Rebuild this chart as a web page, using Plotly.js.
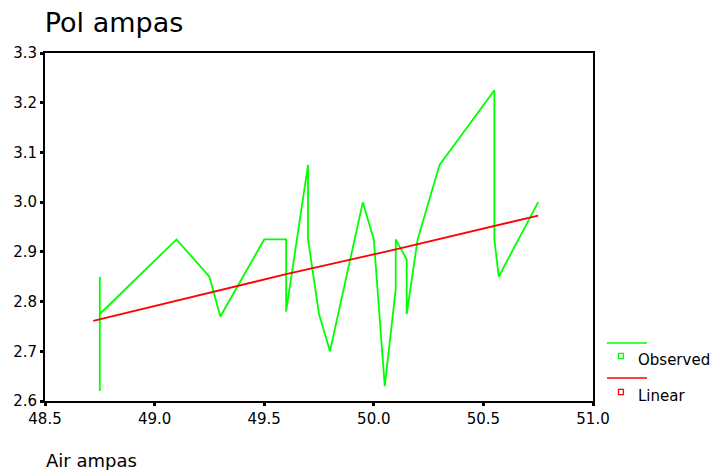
<!DOCTYPE html>
<html>
<head>
<meta charset="utf-8">
<script src="https://cdn.plot.ly/plotly-3.0.1.min.js"></script>
<style>html,body{margin:0;padding:0;background:#fff;}#chart{width:710px;height:470px;}</style>
</head>
<body>
<div id="chart"></div>
<script>
// Observed series (Air ampas vs Pol ampas) in drawing order
var observedX = [48.75, 48.75, 48.75, 49.10, 49.25, 49.30, 49.50, 49.60, 49.60, 49.70, 49.70, 49.75, 49.80, 49.95, 50.00, 50.05, 50.10, 50.10, 50.15, 50.15, 50.20, 50.30, 50.55, 50.55, 50.57, 50.75];
var observedY = [2.62, 2.85, 2.775, 2.925, 2.85, 2.77, 2.925, 2.925, 2.78, 3.075, 2.925, 2.775, 2.70, 3.00, 2.925, 2.63, 2.825, 2.925, 2.885, 2.775, 2.925, 3.075, 3.225, 2.925, 2.85, 3.00];
// Linear fit line
var linearX = [48.72, 49.25, 49.60, 50.10, 50.55, 50.75];
var linearY = [2.761, 2.818, 2.855, 2.905, 2.953, 2.973];
// Axis ticks
var xTicks = [48.5, 49.0, 49.5, 50.0, 50.5, 51.0];
var xTickText = ["48.5", "49.0", "49.5", "50.0", "50.5", "51.0"];
var yTicks = [2.6, 2.7, 2.8, 2.9, 3.0, 3.1, 3.2, 3.3];
var yTickText = ["2.6", "2.7", "2.8", "2.9", "3.0", "3.1", "3.2", "3.3"];
var seriesNames = ["Observed", "Linear"];
var seriesColors = ["#00ff00", "#ff0000"];

var FONT = "DejaVu Sans, Verdana, sans-serif";

var traces = [
  {x: observedX, y: observedY, type: "scatter", mode: "lines", name: seriesNames[0],
   line: {color: seriesColors[0], width: 1.8}, showlegend: false, hoverinfo: "x+y"},
  {x: linearX, y: linearY, type: "scatter", mode: "lines", name: seriesNames[1],
   line: {color: seriesColors[1], width: 1.8}, showlegend: false, hoverinfo: "x+y"}
];

// custom legend (line above, small hollow square with label below)
var legendShapes = [];
var legendAnn = [];
var legTop = [0.1667, 0.0661];   // line y (paper)
var legMark = [0.1293, 0.0259];  // marker y (paper)
for (var i = 0; i < seriesNames.length; i++) {
  legendShapes.push({type: "line", xref: "paper", yref: "paper",
    x0: 1.0255, x1: 1.0985, y0: legTop[i], y1: legTop[i],
    line: {color: seriesColors[i], width: 1.3}});
  legendShapes.push({type: "rect", xref: "paper", yref: "paper",
    x0: 1.0465, x1: 1.0555, y0: legMark[i] - 0.0075, y1: legMark[i] + 0.0075,
    line: {color: seriesColors[i], width: 1.3}, fillcolor: "rgba(0,0,0,0)"});
  legendAnn.push({xref: "paper", yref: "paper", x: 1.0785, y: legMark[i] - 0.011,
    xanchor: "left", yanchor: "middle", showarrow: false, text: seriesNames[i],
    font: {family: FONT, size: 15, color: "#000"}});
}

legendAnn.push({xref: "paper", yref: "paper", x: -0.002, y: -0.172, xanchor: "left", yanchor: "middle",
  showarrow: false, text: "Air ampas", font: {family: FONT, size: 18, color: "#000"}});

var layout = {
  width: 710, height: 470,
  margin: {l: 45, r: 117, t: 53, b: 69, pad: 0},
  paper_bgcolor: "#fff", plot_bgcolor: "#fff",
  font: {family: FONT, color: "#000", size: 15},
  title: {text: "Pol ampas", xref: "container", yref: "container", x: 0.063, xanchor: "left",
          y: 0.953, yanchor: "middle", font: {family: FONT, size: 27, color: "#000"}},
  showlegend: false,
  xaxis: {range: [48.5, 51.0], tickvals: xTicks, ticktext: xTickText, showgrid: false, zeroline: false,
          showline: true, linecolor: "#000", linewidth: 2, mirror: true,
          ticks: "outside", ticklen: 3, tickwidth: 3, tickcolor: "#000",
          tickfont: {family: FONT, size: 15, color: "#000"}, title: {text: ""}},
  yaxis: {range: [2.6, 3.3], tickvals: yTicks, ticktext: yTickText, showgrid: false, zeroline: false,
          showline: true, linecolor: "#000", linewidth: 2, mirror: true,
          ticks: "outside", ticklen: 3, tickwidth: 3, tickcolor: "#000",
          tickfont: {family: FONT, size: 15, color: "#000"}, title: {text: ""}},
  shapes: legendShapes,
  annotations: legendAnn
};

Plotly.newPlot("chart", traces, layout, {displayModeBar: false, staticPlot: true});
</script>
</body>
</html>
